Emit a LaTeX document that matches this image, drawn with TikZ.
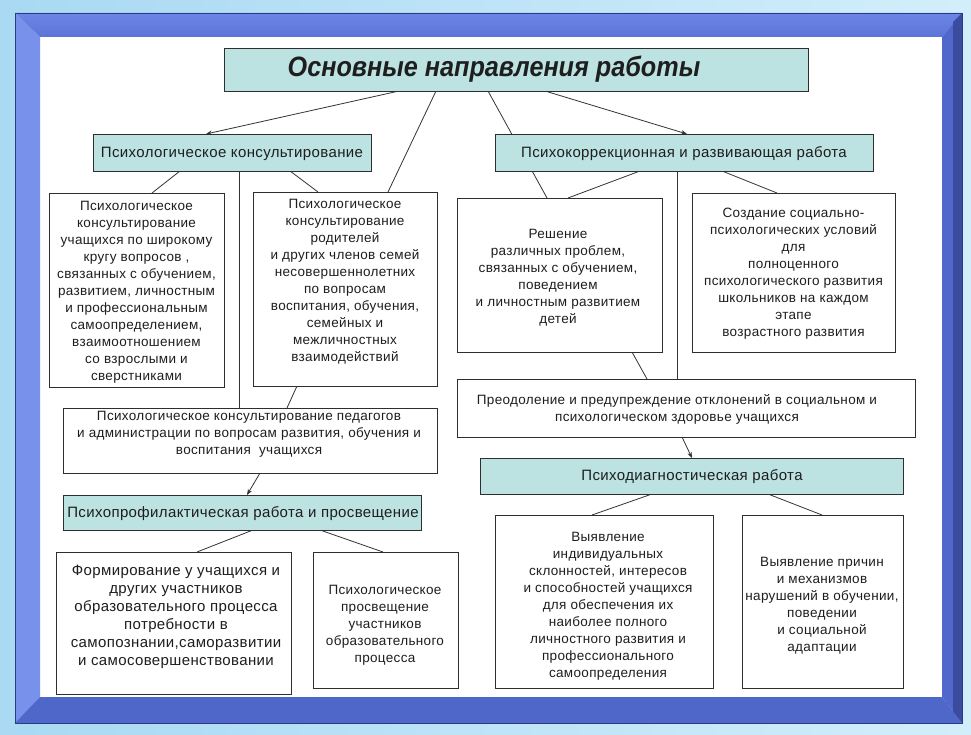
\documentclass[tikz,border=0pt]{standalone}
\usepackage{fontspec}
\setmainfont{Liberation Sans}
\newfontfamily\titlefont[FakeStretch=0.9]{Liberation Sans}
\newfontfamily\bodyfont[LetterSpace=2.5]{Liberation Sans}
\usetikzlibrary{arrows.meta,calc}
\definecolor{tealfill}{HTML}{BDE2E2}
\definecolor{boxline}{HTML}{2E2E2E}
\definecolor{linec}{HTML}{333333}
\definecolor{textc}{HTML}{1E1E1E}
\definecolor{bgA}{HTML}{A9D9F3}
\definecolor{bgB}{HTML}{D2EEFA}
\definecolor{frTop}{HTML}{6C86E6}
\definecolor{frTopB}{HTML}{5C74D8}
\definecolor{frLeft}{HTML}{7891EA}
\definecolor{frRight}{HTML}{5068CC}
\definecolor{frRightOut}{HTML}{3B4B9E}
\definecolor{frBottom}{HTML}{4F67C9}
\definecolor{frEdge}{HTML}{2C3A86}
\pgfdeclarelayer{bglayer}
\pgfdeclarelayer{lineslayer}
\pgfsetlayers{bglayer,lineslayer,main}
\begin{document}
\begin{tikzpicture}[x=1pt,y=-1pt,
  wbox/.style={draw=boxline, line width=0.8pt, fill=white, inner sep=0pt, outer sep=0pt, anchor=north west},
  tbox/.style={wbox, fill=tealfill},
  txt/.style={align=center, font=\bodyfont\fontsize{13.5}{17}\selectfont, text=textc, inner sep=0pt},
  bigtxt/.style={txt, font=\bodyfont\fontsize{15}{18}\selectfont},
  ttxt/.style={txt, font=\bodyfont\fontsize{15}{17}\selectfont},
  conn/.style={draw=linec, line width=0.8pt},
  arr/.style={conn, -{Stealth[length=6pt,width=4.5pt]}}]
\useasboundingbox (0,0) rectangle (971,735);

% ---------- nodes ----------
\node[tbox, minimum width=584pt, minimum height=43pt] (T) at (224,48) {};
\node[tbox, minimum width=278pt, minimum height=37pt] (PK) at (93,134) {};
\node[tbox, minimum width=378pt, minimum height=37pt] (PKR) at (495,134) {};
\node[wbox, minimum width=175pt, minimum height=194pt] (A) at (49,193) {};
\node[wbox, minimum width=184pt, minimum height=194pt] (B) at (253,192) {};
\node[wbox, minimum width=374pt, minimum height=65pt] (Ped) at (63,408) {};
\node[tbox, minimum width=358pt, minimum height=35pt] (Prof) at (63,495) {};
\node[wbox, minimum width=235pt, minimum height=142pt] (C) at (56,552) {};
\node[wbox, minimum width=145pt, minimum height=136pt] (D) at (313,552) {};
\node[wbox, minimum width=205pt, minimum height=154pt] (R) at (457,198) {};
\node[wbox, minimum width=203pt, minimum height=159pt] (S) at (692,193) {};
\node[wbox, minimum width=458pt, minimum height=58pt] (P) at (457,379) {};
\node[tbox, minimum width=423pt, minimum height=36pt] (Dg) at (480,458) {};
\node[wbox, minimum width=218pt, minimum height=173pt] (E) at (495,515) {};
\node[wbox, minimum width=161pt, minimum height=173pt] (F) at (742,515) {};

% ---------- texts ----------
\node[font=\titlefont\fontsize{28}{30}\selectfont\bfseries\itshape, text=textc, inner sep=0pt] (Tt) at (494,69) {Основные направления работы};
\node[ttxt] (PKt) at (232,153.5) {Психологическое консультирование};
\node[ttxt] (PKRt) at (684,153.5) {Психокоррекционная и развивающая работа};
\node[ttxt] (Proft) at (243,513.5) {Психопрофилактическая работа и просвещение};
\node[ttxt] (Dgt) at (692,477) {Психодиагностическая работа};

\node[txt] (At) at (136.5,292.5) {Психологическое\\консультирование\\учащихся по широкому\\кругу вопросов ,\\связанных с обучением,\\развитием, личностным\\и профессиональным\\самоопределением,\\взаимоотношением\\со взрослыми и\\сверстниками};
\node[txt] (Bt) at (345,281.5) {Психологическое\\консультирование\\родителей\\и других членов семей\\несовершеннолетних\\по вопросам\\воспитания, обучения,\\семейных и\\межличностных\\взаимодействий};
\node[txt] (Pedt) at (249,434.5) {Психологическое консультирование педагогов\\и администрации по вопросам развития, обучения и\\воспитания\ \ учащихся};
\node[bigtxt] (Ct) at (176,616.5) {Формирование у учащихся и\\других участников\\образовательного процесса\\потребности в\\самопознании,саморазвитии\\и самосовершенствовании};
\node[txt] (Dt) at (385,625.5) {Психологическое\\просвещение\\участников\\образовательного\\процесса};
\node[txt] (Rt) at (558,278) {Решение\\различных проблем,\\связанных с обучением,\\поведением\\и личностным развитием\\детей};
\node[txt] (St) at (793.5,274) {Создание социально-\\психологических условий\\для\\полноценного\\психологического развития\\школьников на каждом\\этапе\\возрастного развития};
\node[txt] (Pt) at (677,409.5) {Преодоление и предупреждение отклонений в социальном и\\психологическом здоровье учащихся};
\node[txt] (Et) at (608,606.5) {Выявление\\индивидуальных\\склонностей, интересов\\и способностей учащихся\\для обеспечения их\\наиболее полного\\личностного развития и\\профессионального\\самоопределения};
\node[txt] (Ft) at (822,605.5) {Выявление причин\\и механизмов\\нарушений в обучении,\\поведении\\и социальной\\адаптации};

% ---------- connectors ----------
\begin{pgfonlayer}{lineslayer}
\draw[arr] ($(T.south west)+(175,0)$) -- ($(PK.north west)+(113,0)$);
\draw[conn] ($(T.south west)+(212,0)$) -- ($(B.north west)+(135,0)$);
\draw[conn] ($(T.south west)+(264,0)$) -- ($(R.north west)+(90,0)$);
\draw[arr] ($(T.south west)+(321,0)$) -- ($(PKR.north west)+(192,0)$);

\draw[conn] ($(PK.south west)+(87,0)$) -- ($(A.north west)+(103,0)$);
\draw[conn] ($(PK.south west)+(197,0)$) -- ($(B.north west)+(65,0)$);
\draw[conn] ($(PK.south west)+(146,0)$) -- ($(Ped.north west)+(176,0)$);
\draw[conn] ($(B.south west)+(44,0)$) -- ($(Ped.north west)+(224,0)$);
\draw[arr] ($(Ped.south west)+(197,0)$) -- ($(Prof.north west)+(184,0)$);
\draw[conn] ($(Prof.south west)+(190,0)$) -- ($(C.north west)+(141,0)$);
\draw[conn] ($(Prof.south west)+(257,0)$) -- ($(D.north west)+(70,0)$);

\draw[conn] ($(PKR.south west)+(145,0)$) -- ($(R.north west)+(111,0)$);
\draw[conn] ($(PKR.south west)+(182,0)$) -- ($(P.north west)+(220,0)$);
\draw[conn] ($(PKR.south west)+(227,0)$) -- ($(S.north west)+(85,0)$);
\draw[conn] ($(R.south west)+(175,0)$) -- ($(P.north west)+(190,0)$);
\draw[arr] ($(P.south west)+(225,0)$) -- ($(Dg.north west)+(212,0)$);
\draw[conn] ($(Dg.south west)+(172,0)$) -- ($(E.north west)+(97,0)$);
\draw[conn] ($(Dg.south west)+(288,0)$) -- ($(F.north west)+(80,0)$);
\end{pgfonlayer}

% ---------- background and frame ----------
\begin{pgfonlayer}{bglayer}
\shade[left color=bgA, right color=bgB] (0,0) rectangle (971,735);
\fill[white] (40,37) rectangle (942,697);
\shade[top color=frTop, bottom color=frTopB] (15,13) -- (962,13) -- (942,37) -- (40,37) -- cycle;
\fill[frLeft] (15,13) -- (40,37) -- (40,697) -- (15,723) -- cycle;
\fill[frRight] (962,13) -- (962,723) -- (942,697) -- (942,37) -- cycle;
\fill[frRightOut] (953,22) -- (962,13) -- (962,723) -- (953,714) -- cycle;
\fill[frBottom] (15,723) -- (962,723) -- (942,697) -- (40,697) -- cycle;
\draw[frEdge, line width=0.8pt] (15,13) rectangle (962,723);
\end{pgfonlayer}
\end{tikzpicture}
\end{document}
